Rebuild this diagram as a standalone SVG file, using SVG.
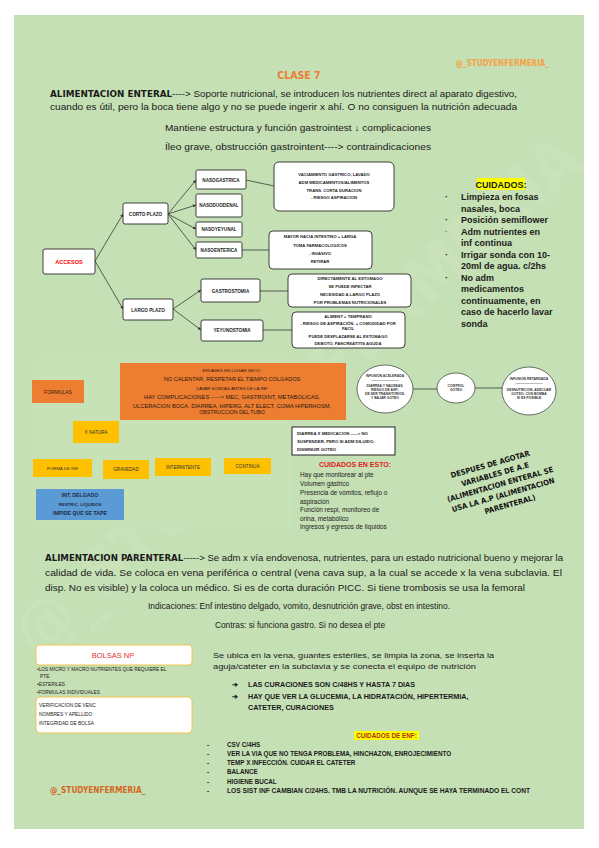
<svg xmlns="http://www.w3.org/2000/svg" width="599" height="848" viewBox="0 0 599 848">
<defs>
<style>
text{font-family:"Liberation Sans",Arial,sans-serif;fill:#1a1a1a}
.b{font-weight:bold}
.hand{font-family:"DejaVu Sans Condensed","DejaVu Sans",sans-serif;font-weight:bold}
.body{font-size:9px}
.c{text-anchor:middle}
.node rect{fill:#fff;stroke:#2b2b2b;stroke-width:0.9}
.tiny{font-size:4.2px;text-anchor:middle;fill:#222;font-weight:bold}
.red{fill:#ff0000}
.lbl{font-size:4.6px;text-anchor:middle;fill:#222;font-weight:bold}
.conn line{stroke:#3a3a3a;stroke-width:0.8;fill:none}
.yl{stroke:#ffc000;stroke-width:1;fill:none}
.ybox rect{fill:#ffc000}
.cu{font-size:9px;font-weight:bold}
.ce{font-size:6.4px;fill:#222}
.rc{font-size:7.2px;fill:#1a1a1a}
.lst{font-size:6.3px;fill:#1a1a1a;font-weight:bold}
.ell ellipse{fill:#fff;stroke:#333;stroke-width:0.7}
.et{font-size:3.4px;text-anchor:middle;fill:#333;font-weight:bold}
.bol{font-size:4.8px;fill:#222}
</style>
<marker id="ah" viewBox="0 0 6 6" refX="6" refY="3" markerWidth="4" markerHeight="4" orient="auto">
<path d="M0,0 L6,3 L0,6 z" fill="#3a3a3a"/>
</marker>
</defs>

<rect x="0" y="0" width="599" height="848" fill="#ffffff"/>
<rect x="14" y="15" width="570" height="814" fill="#c5e0b4"/>

<!-- faint watermark -->
<text x="0" y="0" transform="translate(38,660) rotate(-42)" font-size="66" class="hand" style="fill:#ffffff;opacity:0.08">@_STUDYENFERMERIA_</text>

<!-- header -->
<text x="549" y="66" class="hand" font-size="8" text-anchor="end" style="fill:#f4a244">@_STUDYENFERMERIA_</text>
<text x="299" y="79" class="hand c" font-size="10.5" style="fill:#ed7d31">CLASE 7</text>
<text x="50" y="97" class="body" textLength="467" lengthAdjust="spacingAndGlyphs"><tspan class="hand" font-size="9">ALIMENTACION ENTERAL</tspan>----&gt; Soporte nutricional, se introducen los nutrientes direct al aparato digestivo,</text>
<text x="50" y="110" class="body" textLength="467" lengthAdjust="spacingAndGlyphs">cuando es útil, pero la boca tiene algo y no se puede ingerir x ahí. O no consiguen la nutrición adecuada</text>
<text x="298" y="131" class="body c" textLength="266" lengthAdjust="spacingAndGlyphs">Mantiene estructura y función gastrointest ↓ complicaciones</text>
<text x="298" y="150" class="body c" textLength="266" lengthAdjust="spacingAndGlyphs">Íleo grave, obstrucción gastrointent----&gt; contraindicaciones</text>

<!-- connectors -->
<g id="connectors" class="conn">
<line x1="95" y1="261" x2="123" y2="214" marker-end="url(#ah)"/>
<line x1="95" y1="261" x2="123" y2="309" marker-end="url(#ah)"/>
<line x1="168" y1="214" x2="196" y2="180" marker-end="url(#ah)"/>
<line x1="168" y1="214" x2="196" y2="205" marker-end="url(#ah)"/>
<line x1="168" y1="214" x2="196" y2="229" marker-end="url(#ah)"/>
<line x1="168" y1="214" x2="196" y2="250" marker-end="url(#ah)"/>
<line x1="173" y1="309" x2="201" y2="290" marker-end="url(#ah)"/>
<line x1="173" y1="309" x2="201" y2="330" marker-end="url(#ah)"/>
<line x1="246" y1="180" x2="274" y2="186"/>
<line x1="242" y1="250" x2="269" y2="250"/>
<line x1="260" y1="291" x2="288" y2="291"/>
<line x1="263" y1="330" x2="292" y2="330"/>
<line x1="413" y1="389" x2="437" y2="389"/>
<line x1="475" y1="388" x2="502" y2="388"/>
<line x1="58" y1="403" x2="58" y2="458" class="yl"/>
<line x1="58" y1="432" x2="73" y2="432" class="yl" stroke-dasharray="1.5,1.5"/>
<line x1="58" y1="452" x2="248" y2="452" class="yl"/>
<line x1="127" y1="452" x2="127" y2="460" class="yl"/>
<line x1="183" y1="452" x2="183" y2="458" class="yl"/>
<line x1="248" y1="452" x2="248" y2="458" class="yl"/>
<line x1="37" y1="478" x2="37" y2="489" style="stroke:#7f9fbf;stroke-width:0.8"/>
</g>

<!-- tree nodes -->
<g id="n-accesos" class="node"><rect x="43" y="249" width="52" height="25" rx="2"/><text x="69" y="264" class="c red b" font-size="5.6">ACCESOS</text></g>
<g id="n-corto" class="node"><rect x="123" y="203" width="45" height="21" rx="2"/><text x="145.5" y="215.5" class="lbl red">CORTO PLAZO</text></g>
<g id="n-largo" class="node"><rect x="123" y="299" width="50" height="21" rx="2"/><text x="148" y="311.5" class="lbl red" font-size="5">LARGO PLAZO</text></g>
<g id="n-nasogastrica" class="node"><rect x="196" y="170" width="50" height="19" rx="1.5"/><text x="221" y="181.5" class="lbl">NASOGASTRICA</text></g>
<g id="n-nasoduodenal" class="node"><rect x="196" y="194" width="46" height="23" rx="1.5"/><text x="219" y="207" class="lbl">NASODUODENAL</text></g>
<g id="n-nasoyeyunal" class="node"><rect x="196" y="222" width="46" height="15" rx="1.5"/><text x="219" y="231" class="lbl">NASOYEYUNAL</text></g>
<g id="n-nasoenterica" class="node"><rect x="196" y="242" width="46" height="16" rx="1.5"/><text x="219" y="251.5" class="lbl">NASOENTERICA</text></g>
<g id="n-gastrostomia" class="node"><rect x="201" y="279" width="59" height="23" rx="2"/><text x="230.5" y="292.5" class="lbl">GASTROSTOMIA</text></g>
<g id="n-yeyunostomia" class="node"><rect x="201" y="320" width="62" height="21" rx="2"/><text x="232" y="332" class="lbl">YEYUNOSTOMIA</text></g>

<g id="n-info1" class="node"><rect x="274" y="162" width="120" height="49" rx="5"/>
<text class="tiny"><tspan x="334" y="176">VACIAMIENTO GASTRICO, LAVADO</tspan><tspan x="334" y="184">ADM MEDICAMENTOS/ALIMENTOS</tspan><tspan x="334" y="192">TRANS. CORTA DURACION</tspan><tspan x="334" y="199">- RIESGO ASPIRACION</tspan></text></g>
<g id="n-info2" class="node"><rect x="269" y="231" width="103" height="38" rx="4"/>
<text class="tiny"><tspan x="320" y="238">MAYOR HACIA INTESTINO + LARGA</tspan><tspan x="320" y="246.5">TOMA FARMACOLOGICOS</tspan><tspan x="320" y="255">- INVASIVO</tspan><tspan x="320" y="263">RETIRAR</tspan></text></g>
<g id="n-info3" class="node"><rect x="288" y="274" width="123" height="33" rx="4"/>
<text class="tiny"><tspan x="350" y="279.5">DIRECTAMENTE AL ESTOMAGO</tspan><tspan x="350" y="287.5">SE PUEDE INFECTAR</tspan><tspan x="350" y="295.5">NECESIDAD A LARGO PLAZO</tspan><tspan x="350" y="303.5">POR PROBLEMAS NUTRICIONALES</tspan></text></g>
<g id="n-info4" class="node"><rect x="292" y="312" width="113" height="36" rx="4"/>
<text class="tiny"><tspan x="348" y="317.5">ALIMENT + TEMPRANO</tspan><tspan x="348" y="324.5">- RIESGO DE ASPIRACIÓN, + COMODIDAD POR</tspan><tspan x="348" y="329.5">FACIL</tspan><tspan x="348" y="337.5">PUEDE DESPLAZARSE AL ESTOMAGO</tspan><tspan x="348" y="344.5">DEBOTO, PANCREATITIS AGUDA</tspan></text></g>

<!-- cuidados -->
<g id="cuidados">
<rect x="477" y="178" width="48" height="12" fill="#ffff00"/>
<text x="501" y="187.5" class="cu c">CUIDADOS:</text>
<g class="cu">
<text x="445" y="200">·</text><text x="461" y="200">Limpieza en fosas</text>
<text x="461" y="211.5">nasales, boca</text>
<text x="445" y="223">·</text><text x="461" y="223">Posición semiflower</text>
<text x="445" y="234.5" style="opacity:0.5">·</text><text x="461" y="234.5">Adm nutrientes en</text>
<text x="461" y="246">inf continua</text>
<text x="445" y="257.5">·</text><text x="461" y="257.5">Irrigar sonda con 10-</text>
<text x="461" y="269">20ml de agua. c/2hs</text>
<text x="445" y="280.5">·</text><text x="461" y="280.5">No adm</text>
<text x="461" y="292">medicamentos</text>
<text x="461" y="303.5">continuamente, en</text>
<text x="461" y="315">caso de hacerlo lavar</text>
<text x="461" y="326.5">sonda</text>
</g>
</g>

<!-- formulas area -->
<rect x="33" y="358" width="258" height="169" fill="#c8e2b7"/>
<g id="n-orange">
<rect x="120" y="363" width="226" height="57" fill="#ed7d31"/>
<text class="c" style="fill:#2a1a10"><tspan x="232" y="372" font-size="4.4">ENVASES EN LUGAR SECO.</tspan><tspan x="232" y="381" font-size="5.6">NO CALENTAR, RESPETAR EL TIEMPO COLGADOS</tspan><tspan x="232" y="390" font-size="4.4">LAVAR SONDAS ANTES DE LA INF</tspan></text>
<text x="232" y="399" class="c" font-size="5.6" style="fill:#2a1a10" textLength="176" lengthAdjust="spacingAndGlyphs">HAY COMPLICACIONES -----&gt; MEC, GASTROINT, METABOLICAS.</text>
<text x="232" y="408" class="c" font-size="5.6" style="fill:#2a1a10" textLength="198" lengthAdjust="spacingAndGlyphs">ULCERACION BOCA, DIARREA, HIPERG, ALT ELECT, COMA HIPERHOSM,</text>
<text x="232" y="413.5" class="c" font-size="5.2" style="fill:#2a1a10">OBSTRUCCION DEL TUBO</text>
</g>
<g id="n-formulas"><rect x="32" y="380" width="52" height="23" fill="#ed7d31"/><text x="58" y="393.5" class="c" font-size="5" style="fill:#3a2010">FORMULAS</text></g>
<g id="n-xnatura" class="ybox"><rect x="73" y="421" width="46" height="22"/><text x="96" y="434" class="c" font-size="4.6" style="fill:#333">X NATURA</text></g>
<g id="n-formainf" class="ybox"><rect x="33" y="459" width="59" height="18"/><text x="62.5" y="469.5" class="c" font-size="4.4" style="fill:#333">FORMA DE INF</text></g>
<g id="n-gravedad" class="ybox"><rect x="103" y="460" width="46" height="19"/><text x="126" y="471" class="c" font-size="4.6" style="fill:#333">GRAVEDAD</text></g>
<g id="n-intermitente" class="ybox"><rect x="155" y="458" width="56" height="18"/><text x="183" y="468.5" class="c" font-size="4.6" style="fill:#333">INTERMITENTE</text></g>
<g id="n-continua" class="ybox"><rect x="224" y="458" width="47" height="16"/><text x="247.5" y="467.5" class="c" font-size="4.6" style="fill:#333">CONTINUA</text></g>
<g id="n-blue"><rect x="36" y="489" width="88" height="31" fill="#5b9bd5"/>
<text class="c b" style="fill:#1f2a44"><tspan x="80" y="497" font-size="5.2">INT. DELGADO</tspan><tspan x="80" y="505.5" font-size="4.4">RESTRIC, LIQUIDOS</tspan><tspan x="80" y="515" font-size="5.2">IMPIDE QUE SE TAPE</tspan></text></g>

<!-- ellipses -->
<g id="n-acelerada" class="ell"><ellipse cx="385" cy="389" rx="28" ry="24"/>
<text class="et"><tspan x="385" y="377">INFUSION ACELERADA</tspan><tspan x="385" y="381">------------------------</tspan><tspan x="385" y="387">DIARREA Y NAUSEAS,</tspan><tspan x="385" y="391">RIESGO DE ASP.,</tspan><tspan x="385" y="395">DE SER TRANSITORIOS,</tspan><tspan x="385" y="399">Y BAJAR GOTEO</tspan></text></g>
<g id="n-control" class="ell"><ellipse cx="456" cy="388" rx="19" ry="15"/>
<text class="et"><tspan x="456" y="387">CONTROL</tspan><tspan x="456" y="391">GOTEO</tspan></text></g>
<g id="n-retardada" class="ell"><ellipse cx="529" cy="391" rx="27" ry="24"/>
<text class="et"><tspan x="529" y="380">INFUSION RETARDADA</tspan><tspan x="529" y="384">------------------------</tspan><tspan x="529" y="391">DESNUTRICION, ADECUAR</tspan><tspan x="529" y="395">GOTEO, CON BOMBA</tspan><tspan x="529" y="399">SI ES POSIBLE</tspan></text></g>

<!-- diarrea box -->
<g id="n-diarrea"><rect x="292" y="427" width="103" height="28" fill="#fff" stroke="#111" stroke-width="0.9"/>
<text font-size="4.3" style="fill:#222;font-weight:bold"><tspan x="297" y="434.5">DIARREA X MEDICACION -----&gt; NO</tspan><tspan x="297" y="442.5">SUSPENDER, PERO SI ADM DILUIDO,</tspan><tspan x="297" y="450.5">DISMINUIR GOTEO</tspan></text></g>

<!-- cuidados en esto -->
<g id="cuidados-esto">
<text x="355" y="467" class="c b" font-size="7" style="fill:#e02020">CUIDADOS EN ESTO:</text>
<text class="ce"><tspan x="300" y="477">Hay que monitorear al pte</tspan><tspan x="300" y="486">Volumen gástrico</tspan><tspan x="300" y="495">Presencia de vómitos, reflujo o</tspan><tspan x="300" y="503.5">aspiración</tspan><tspan x="300" y="512">Función respi, monitoreo de</tspan><tspan x="300" y="520.5">orina, metabólico</tspan><tspan x="300" y="529">Ingresos y egresos de líquidos</tspan></text>
</g>

<!-- rotated note -->
<g transform="translate(500,484) rotate(-16)">
<text class="hand c" font-size="7.6" style="fill:#111"><tspan x="-4" y="-19">DESPUES DE AGOTAR</tspan><tspan x="-2" y="-8">VARIABLES DE A.E</tspan><tspan x="0" y="3">(ALIMENTACION ENTERAL SE</tspan><tspan x="0" y="14">USA LA A.P (ALIMENTACION</tspan><tspan x="4" y="25">PARENTERAL)</tspan></text>
</g>

<!-- parenteral -->
<text x="45" y="561" class="body" textLength="518" lengthAdjust="spacingAndGlyphs"><tspan class="hand">ALIMENTACION PARENTERAL</tspan>-----&gt; Se adm x vía endovenosa, nutrientes, para un estado nutricional bueno y mejorar la</text>
<text x="45" y="576" class="body" textLength="517" lengthAdjust="spacingAndGlyphs">calidad de vida. Se coloca en vena periférica o central (vena cava sup, a la cual se accede x la vena subclavia. El</text>
<text x="45" y="591" class="body" textLength="480" lengthAdjust="spacingAndGlyphs">disp. No es visible) y la coloca un médico. Si es de corta duración PICC. Si tiene trombosis se usa la femoral</text>
<text x="299" y="609" class="body c" textLength="302" lengthAdjust="spacingAndGlyphs">Indicaciones: Enf intestino delgado, vomito, desnutrición grave, obst en intestino.</text>
<text x="300" y="628" class="body c" textLength="170" lengthAdjust="spacingAndGlyphs">Contras: si funciona gastro. Si no desea el pte</text>

<!-- bolsas -->
<g id="n-bolsas"><rect x="36" y="645" width="156" height="20" rx="3" fill="#fff" stroke="#f0c040" stroke-width="0.9"/><text x="113" y="658" class="c" font-size="7.5" style="fill:#e03030">BOLSAS NP</text></g>
<text class="bol"><tspan x="37" y="671">•LOS MICRO Y MACRO NUTRIENTES QUE REQUIERE EL</tspan><tspan x="40" y="677.5">PTE</tspan><tspan x="37" y="685.5">•ESTERILES</tspan><tspan x="37" y="693.5">•FORMULAS INDIVIDUALES</tspan></text>
<g id="n-verif"><rect x="36" y="697" width="156" height="36" rx="4" fill="#fff" stroke="#f0c040" stroke-width="0.9"/>
<text class="bol"><tspan x="39" y="707">VERIFICACION DE VENC</tspan><tspan x="39" y="715.5">NOMBRES Y APELLIDO</tspan><tspan x="39" y="725">INTEGRIDAD DE BOLSA</tspan></text></g>

<!-- right column -->
<text x="213" y="657.5" class="rc" textLength="281" lengthAdjust="spacingAndGlyphs">Se ubica en la vena, guantes estériles, se limpia la zona, se inserta la</text>
<text x="213" y="669" class="rc" textLength="263" lengthAdjust="spacingAndGlyphs">aguja/catéter en la subclavia y se conecta el equipo de nutrición</text>
<text class="rc b" font-size="6.8"><tspan x="232" y="687">➔</tspan><tspan x="248" y="687">LAS CURACIONES SON C/48HS Y HASTA 7 DIAS</tspan><tspan x="232" y="698.5">➔</tspan><tspan x="248" y="698.5">HAY QUE VER LA GLUCEMIA, LA HIDRATACIÓN, HIPERTERMIA,</tspan><tspan x="248" y="710">CATETER, CURACIONES</tspan></text>
<rect x="354" y="731" width="65" height="9" fill="#ffff00"/>
<text x="386.5" y="738" class="lst c" font-size="6.6" style="fill:#b03010">CUIDADOS DE ENF:</text>
<g class="lst">
<text x="207" y="747">-</text><text x="227" y="747">CSV C/4HS</text>
<text x="207" y="756">-</text><text x="227" y="756">VER LA VIA QUE NO TENGA PROBLEMA, HINCHAZON, ENROJECIMIENTO</text>
<text x="207" y="765">-</text><text x="227" y="765">TEMP X INFECCIÓN. CUIDAR EL CATETER</text>
<text x="207" y="774">-</text><text x="227" y="774">BALANCE</text>
<text x="207" y="783.5">-</text><text x="227" y="783.5">HIGIENE BUCAL</text>
<text x="207" y="793">-</text><text x="227" y="793" textLength="303" lengthAdjust="spacingAndGlyphs">LOS SIST INF CAMBIAN C/24HS. TMB LA NUTRICIÓN. AUNQUE SE HAYA TERMINADO EL CONT</text>
</g>
<text x="50" y="793" class="hand" font-size="8.2" style="fill:#d2691e">@_STUDYENFERMERIA_</text>
</svg>
